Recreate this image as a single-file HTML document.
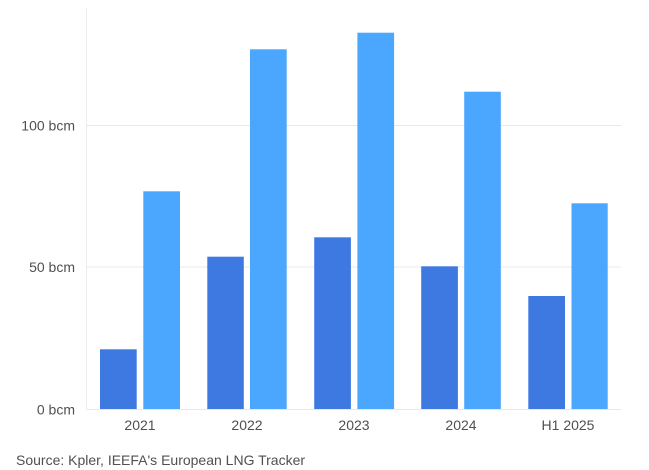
<!DOCTYPE html>
<html>
<head>
<meta charset="utf-8">
<style>
  html, body { margin:0; padding:0; background:#ffffff; }
  body { width:649px; height:470px; overflow:hidden; }
  svg { display:block; }
  text { font-family: "Liberation Sans", sans-serif; font-size:14px; fill:#505050; }
</style>
</head>
<body>
<svg width="649" height="470" viewBox="0 0 649 470" xmlns="http://www.w3.org/2000/svg">
  <rect x="0" y="0" width="649" height="470" fill="#ffffff"/>
  <!-- grid -->
  <line x1="86.5" y1="8" x2="86.5" y2="409.5" stroke="#ececec" stroke-width="1"/>
  <line x1="86.5" y1="125.5" x2="621" y2="125.5" stroke="#e8e8e8" stroke-width="1"/>
  <line x1="86.5" y1="267" x2="621" y2="267" stroke="#e8e8e8" stroke-width="1"/>

  <!-- bars -->
  <g>
    <rect x="100" y="349.3" width="36.7" height="60.7" fill="#3e79e2"/>
    <rect x="143.3" y="191.3" width="36.7" height="218.7" fill="#4ba7fd"/>

    <rect x="207.3" y="256.7" width="36.5" height="153.3" fill="#3e79e2"/>
    <rect x="250" y="49.3" width="36.7" height="360.7" fill="#4ba7fd"/>

    <rect x="314.2" y="237.3" width="36.7" height="172.7" fill="#3e79e2"/>
    <rect x="357.4" y="32.7" width="36.7" height="377.3" fill="#4ba7fd"/>

    <rect x="421.2" y="266.3" width="36.7" height="143.7" fill="#3e79e2"/>
    <rect x="464.2" y="91.7" width="36.6" height="318.3" fill="#4ba7fd"/>

    <rect x="528.3" y="296" width="36.7" height="114" fill="#3e79e2"/>
    <rect x="571.5" y="203.3" width="36.2" height="206.7" fill="#4ba7fd"/>
  </g>

  <line x1="86.5" y1="409.5" x2="621" y2="409.5" stroke="#e8e8e8" stroke-width="1"/>

  <!-- y labels -->
  <text x="75" y="130.5" text-anchor="end">100 bcm</text>
  <text x="75" y="272" text-anchor="end">50 bcm</text>
  <text x="75" y="414.5" text-anchor="end">0 bcm</text>

  <!-- x labels -->
  <text x="140" y="430" text-anchor="middle">2021</text>
  <text x="247" y="430" text-anchor="middle">2022</text>
  <text x="354" y="430" text-anchor="middle">2023</text>
  <text x="461" y="430" text-anchor="middle">2024</text>
  <text x="568" y="430" text-anchor="middle">H1 2025</text>

  <!-- source -->
  <text x="16" y="465">Source: Kpler, IEEFA's European LNG Tracker</text>
</svg>
</body>
</html>
